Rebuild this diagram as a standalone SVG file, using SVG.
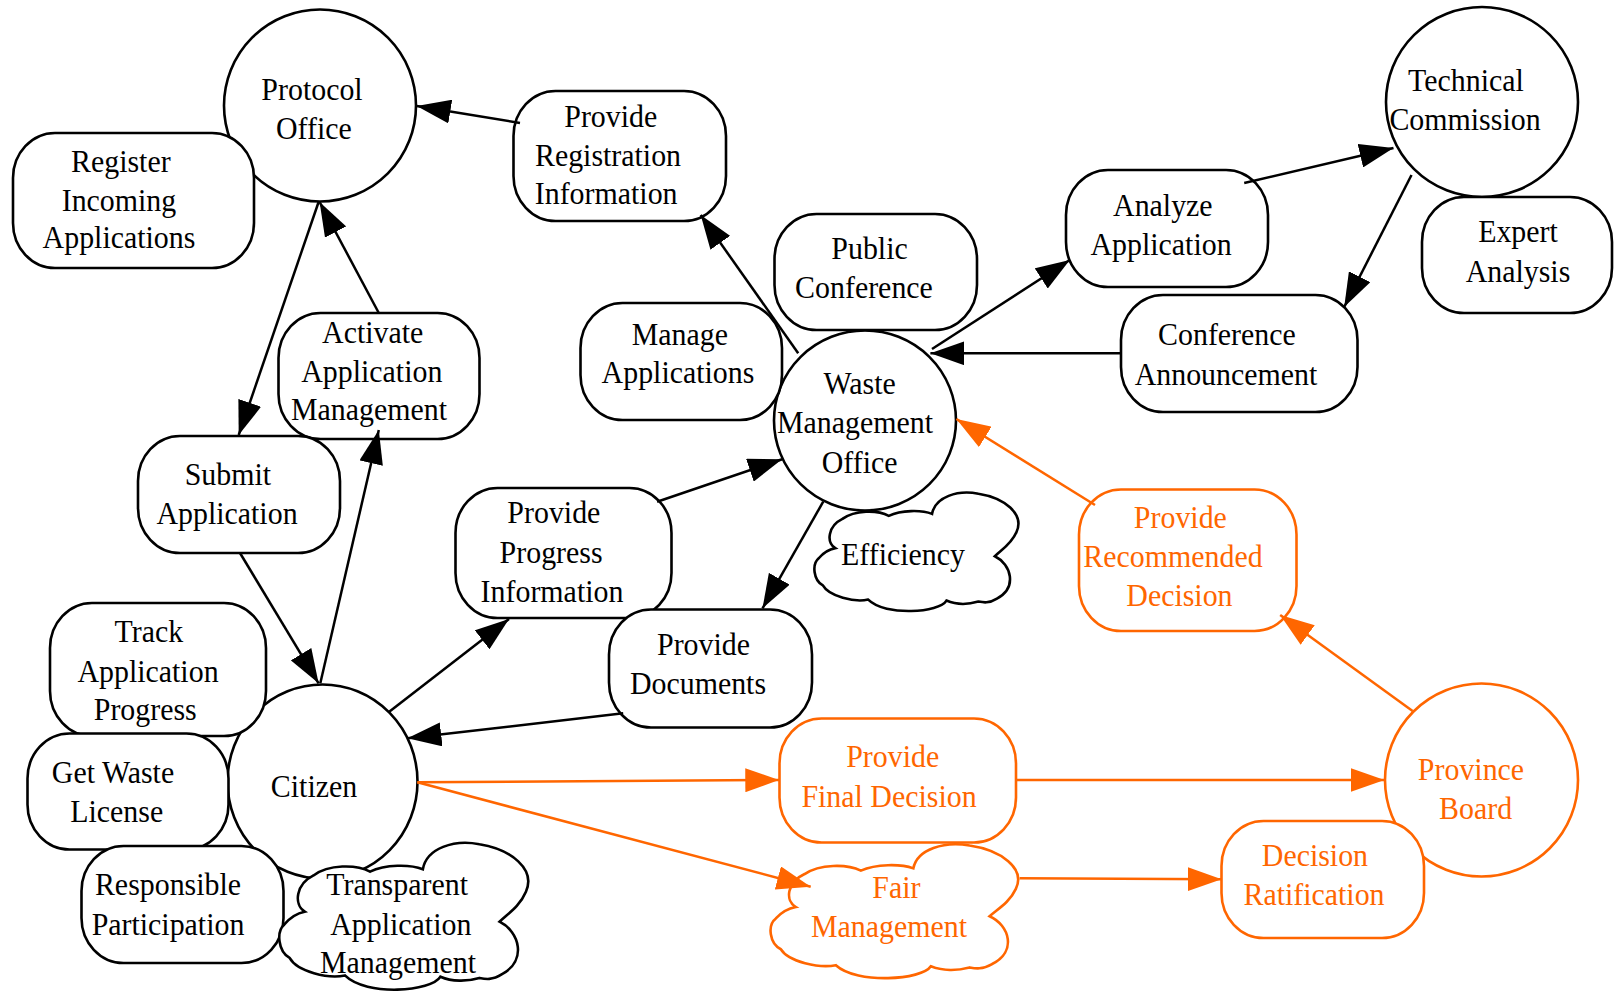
<svg xmlns="http://www.w3.org/2000/svg" width="1614" height="994" viewBox="0 0 1614 994">
  <defs>
    <style>
      .node { fill: #ffffff; stroke: #000000; stroke-width: 2.6; }
      .hot { fill: #ffffff; stroke: #ff6600; stroke-width: 2.6; }
      .lbl { font-family: "Liberation Serif", "Times New Roman", serif; font-size: 32.5px; fill: #000000; text-anchor: middle;
             transform-box: fill-box; transform-origin: center; transform: scaleX(0.92); }
      .lbl.hot-t { fill: #ff6600; }
      .edge { fill: none; stroke: #000000; stroke-width: 2.5; marker-end: url(#arrow); }
      .edge.hot-e { stroke: #ff6600; marker-end: url(#arrow-hot); }
    </style>
    <marker id="arrow" markerUnits="userSpaceOnUse" markerWidth="34" markerHeight="24" refX="34" refY="12" orient="auto">
      <path d="M0,0 L34,12 L0,24 Z" fill="#000000"/>
    </marker>
    <marker id="arrow-hot" markerUnits="userSpaceOnUse" markerWidth="34" markerHeight="24" refX="34" refY="12" orient="auto">
      <path d="M0,0 L34,12 L0,24 Z" fill="#ff6600"/>
    </marker>
  </defs>

  <rect width="1614" height="994" fill="#ffffff"/>

  <!-- actors -->
  <g id="protocol-office">
    <ellipse class="node" cx="320" cy="105.5" rx="96" ry="96"/>
    <text class="lbl"><tspan x="312" y="100">Protocol</tspan><tspan x="314" y="139">Office</tspan></text>
  </g>
  <g id="technical-commission">
    <ellipse class="node" cx="1482" cy="102" rx="96" ry="95"/>
    <text class="lbl"><tspan x="1466" y="91">Technical</tspan><tspan x="1465" y="130">Commission</tspan></text>
  </g>
  <g id="waste-management-office">
    <ellipse class="node" cx="865" cy="420.5" rx="91" ry="90"/>
    <text class="lbl"><tspan x="860" y="394">Waste</tspan><tspan x="855" y="433">Management</tspan><tspan x="860" y="473">Office</tspan></text>
  </g>
  <g id="citizen">
    <ellipse class="node" cx="322.5" cy="781.5" rx="95" ry="97"/>
    <text class="lbl"><tspan x="314" y="797">Citizen</tspan></text>
  </g>
  <g id="province-board">
    <ellipse class="hot" cx="1481.5" cy="780" rx="96.5" ry="96.5"/>
    <text class="lbl hot-t"><tspan x="1471" y="780">Province</tspan><tspan x="1476" y="819">Board</tspan></text>
  </g>

  <!-- goals and tasks -->
  <g id="register-incoming-applications">
    <rect class="node" x="13" y="133" width="241" height="135" rx="42" ry="45"/>
    <text class="lbl"><tspan x="121" y="172">Register</tspan><tspan x="119" y="211">Incoming</tspan><tspan x="119" y="248">Applications</tspan></text>
  </g>
  <g id="provide-registration-information">
    <rect class="node" x="513.5" y="91" width="212.5" height="130" rx="42" ry="45"/>
    <text class="lbl"><tspan x="611" y="127">Provide</tspan><tspan x="608" y="166">Registration</tspan><tspan x="606" y="204">Information</tspan></text>
  </g>
  <g id="public-conference">
    <rect class="node" x="774.5" y="214" width="202.5" height="116" rx="42" ry="45"/>
    <text class="lbl"><tspan x="870" y="259">Public</tspan><tspan x="864" y="298">Conference</tspan></text>
  </g>
  <g id="analyze-application">
    <rect class="node" x="1066" y="170" width="202" height="117" rx="42" ry="45"/>
    <text class="lbl"><tspan x="1163" y="216">Analyze</tspan><tspan x="1161" y="255">Application</tspan></text>
  </g>
  <g id="expert-analysis">
    <rect class="node" x="1422" y="197" width="190" height="116" rx="42" ry="45"/>
    <text class="lbl"><tspan x="1518" y="242">Expert</tspan><tspan x="1518" y="282">Analysis</tspan></text>
  </g>
  <g id="manage-applications">
    <rect class="node" x="580.5" y="303" width="201.5" height="117" rx="42" ry="45"/>
    <text class="lbl"><tspan x="680" y="345">Manage</tspan><tspan x="678" y="383">Applications</tspan></text>
  </g>
  <g id="conference-announcement">
    <rect class="node" x="1121" y="295" width="236.5" height="117" rx="42" ry="45"/>
    <text class="lbl"><tspan x="1227" y="345">Conference</tspan><tspan x="1226" y="385">Announcement</tspan></text>
  </g>
  <g id="activate-application-management">
    <rect class="node" x="278.5" y="313" width="201" height="126" rx="42" ry="45"/>
    <text class="lbl"><tspan x="373" y="343">Activate</tspan><tspan x="372" y="382">Application</tspan><tspan x="369" y="420">Management</tspan></text>
  </g>
  <g id="submit-application">
    <rect class="node" x="138" y="436" width="202" height="117" rx="42" ry="45"/>
    <text class="lbl"><tspan x="228" y="485">Submit</tspan><tspan x="227" y="524">Application</tspan></text>
  </g>
  <g id="provide-progress-information">
    <rect class="node" x="455.5" y="488" width="216" height="130" rx="42" ry="45"/>
    <text class="lbl"><tspan x="554" y="523">Provide</tspan><tspan x="551" y="563">Progress</tspan><tspan x="552" y="602">Information</tspan></text>
  </g>
  <g id="provide-documents">
    <rect class="node" x="609" y="609.5" width="203" height="118" rx="42" ry="45"/>
    <text class="lbl"><tspan x="704" y="655">Provide</tspan><tspan x="698" y="694">Documents</tspan></text>
  </g>
  <g id="provide-recommended-decision">
    <rect class="hot" x="1079" y="489.5" width="217.5" height="141.5" rx="42" ry="45"/>
    <text class="lbl hot-t"><tspan x="1181" y="528">Provide</tspan><tspan x="1173" y="567">Recommended</tspan><tspan x="1180" y="606">Decision</tspan></text>
  </g>
  <g id="track-application-progress">
    <rect class="node" x="50" y="603" width="216" height="133" rx="42" ry="45"/>
    <text class="lbl"><tspan x="149" y="642">Track</tspan><tspan x="148" y="682">Application</tspan><tspan x="145" y="720">Progress</tspan></text>
  </g>
  <g id="get-waste-license">
    <rect class="node" x="27.5" y="733.5" width="201" height="116" rx="42" ry="45"/>
    <text class="lbl"><tspan x="113" y="783">Get Waste</tspan><tspan x="117" y="822">License</tspan></text>
  </g>
  <g id="responsible-participation">
    <rect class="node" x="81.5" y="846" width="202" height="117" rx="42" ry="45"/>
    <text class="lbl"><tspan x="168" y="895">Responsible</tspan><tspan x="168" y="935">Participation</tspan></text>
  </g>
  <g id="provide-final-decision">
    <rect class="hot" x="779.5" y="718.5" width="236.5" height="124" rx="42" ry="45"/>
    <text class="lbl hot-t"><tspan x="893" y="767">Provide</tspan><tspan x="889" y="807">Final Decision</tspan></text>
  </g>
  <g id="decision-ratification">
    <rect class="hot" x="1221.5" y="821" width="202.5" height="117" rx="42" ry="45"/>
    <text class="lbl hot-t"><tspan x="1315" y="866">Decision</tspan><tspan x="1314" y="905">Ratification</tspan></text>
  </g>

  <!-- soft goals: cloud outline drawn in a 200 x 120 box, scaled into place -->
  <g id="efficiency">
    <path class="node" vector-effect="non-scaling-stroke" transform="translate(813.6,491.7) scale(1.03,1.008)" d="M21,56 C12,50 14,34 28,27 C40,18 62,18 73,24 C85,18 105,18 115,22 C118,5 140,-2 160,2 C185,6 205,22 197,40 C192,52 182,58 176,64 C192,72 198,95 178,106 C170,111 165,110 160,109 C150,112 138,112 129,108 C122,120 70,124 53,107 C40,110 15,104 9,93 C0,88 -2,72 5,66 C10,60 16,57 21,56 Z"/>
    <text class="lbl"><tspan x="903" y="565">Efficiency</tspan></text>
  </g>
  <g id="transparent-application-management">
    <path class="node" vector-effect="non-scaling-stroke" transform="translate(278.3,841.7) scale(1.257,1.25)" d="M21,56 C12,50 14,34 28,27 C40,18 62,18 73,24 C85,18 105,18 115,22 C118,5 140,-2 160,2 C185,6 205,22 197,40 C192,52 182,58 176,64 C192,72 198,95 178,106 C170,111 165,110 160,109 C150,112 138,112 129,108 C122,120 70,124 53,107 C40,110 15,104 9,93 C0,88 -2,72 5,66 C10,60 16,57 21,56 Z"/>
    <text class="lbl"><tspan x="397" y="895">Transparent</tspan><tspan x="401" y="935">Application</tspan><tspan x="398" y="973">Management</tspan></text>
  </g>
  <g id="fair-management">
    <path class="hot" vector-effect="non-scaling-stroke" transform="translate(769.6,843.3) scale(1.25,1.139)" d="M21,56 C12,50 14,34 28,27 C40,18 62,18 73,24 C85,18 105,18 115,22 C118,5 140,-2 160,2 C185,6 205,22 197,40 C192,52 182,58 176,64 C192,72 198,95 178,106 C170,111 165,110 160,109 C150,112 138,112 129,108 C122,120 70,124 53,107 C40,110 15,104 9,93 C0,88 -2,72 5,66 C10,60 16,57 21,56 Z"/>
    <text class="lbl hot-t"><tspan x="897" y="898">Fair</tspan><tspan x="889" y="937">Management</tspan></text>
  </g>

  <!-- connectors -->
  <g id="connectors">
    <path class="edge" d="M520,123 L416.7,106"/>
    <path class="edge" d="M318.6,202 L238.7,435"/>
    <path class="edge" d="M378.8,313 L319.6,202"/>
    <path class="edge" d="M320.3,683.3 L378.8,430"/>
    <path class="edge" d="M240,553 L318.6,683.3"/>
    <path class="edge" d="M389.2,711.7 L509,619"/>
    <path class="edge" d="M657.1,501.7 L782.1,459.3"/>
    <path class="edge" d="M823.2,501.7 L762.5,608.3"/>
    <path class="edge" d="M623.2,713.3 L407.4,738.3"/>
    <path class="edge" d="M798.2,353.3 L700.7,215"/>
    <path class="edge" d="M932,349 L1069.8,260"/>
    <path class="edge" d="M1120.9,353.3 L930.4,353.3"/>
    <path class="edge" d="M1244.2,183 L1393.5,148"/>
    <path class="edge" d="M1411.5,175 L1344.2,307"/>
    <path class="edge hot-e" d="M1095,505 L956.4,419"/>
    <path class="edge hot-e" d="M1412.6,711 L1280.2,615"/>
    <path class="edge hot-e" d="M417.4,782.3 L779.3,780"/>
    <path class="edge hot-e" d="M417.4,782.3 L810.7,886.7"/>
    <path class="edge hot-e" d="M1016.1,780 L1384.5,780"/>
    <path class="edge hot-e" d="M1019.6,878.3 L1221.6,879.3"/>
  </g>
</svg>
